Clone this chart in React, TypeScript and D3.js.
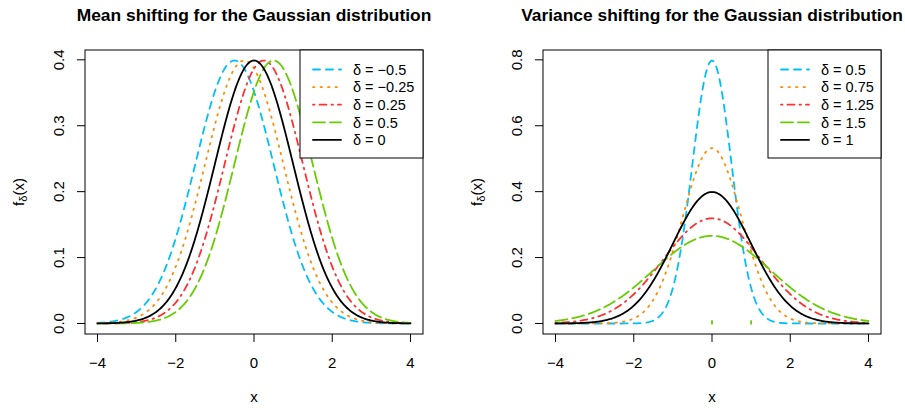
import * as d3 from "d3";

const meanDeltas = [-0.5, -0.25, 0.25, 0.5, 0];
const meanLabels = ["\u22120.5", "\u22120.25", "0.25", "0.5", "0"];
const sdDeltas = [0.5, 0.75, 1.25, 1.5, 1];
const sdLabels = ["0.5", "0.75", "1.25", "1.5", "1"];
const xTicks = [-4, -2, 0, 2, 4];
const meanYTicks = [0, 0.1, 0.2, 0.3, 0.4];
const sdYTicks = [0, 0.2, 0.4, 0.6, 0.8];
const rugMarks = [0, 1];

const colors = ["#00BFFF", "#FF8C00", "#FF3030", "#66CD00", "#000000"];
const dashes = ["7,6", "1.5,6", "1.5,5,7,5", "12,5", ""];

const FONT = "Liberation Sans, Arial, Helvetica, sans-serif";
const grid = d3.range(0, 401).map((i) => -4 + (i * 8) / 400);

const dnorm = (x: number, m: number, s: number) =>
  Math.exp(-((x - m) ** 2) / (2 * s * s)) / (s * Math.sqrt(2 * Math.PI));

type PanelProps = {
  left: number;
  title: string;
  curves: { m: number; s: number }[];
  labels: string[];
  yTicks: number[];
  yMax: number;
  legendX: number;
  rug?: number[];
};

const Panel = ({ left, title, curves, labels, yTicks, yMax, legendX, rug }: PanelProps) => {
  const top = 50;
  const bottom = 334;
  const right = left + 338;
  const x = d3.scaleLinear().domain([-4.32, 4.32]).range([left, right]);
  const pad = yMax * 0.04;
  const y = d3.scaleLinear().domain([-pad, yMax + pad]).range([bottom, top]);
  const line = d3
    .line<number[]>()
    .x((d) => x(d[0]))
    .y((d) => y(d[1]));

  return (
    <g fontFamily={FONT}>
      <text x={(left + right) / 2} y={21} textAnchor="middle" fontWeight="bold" fontSize={17.4}>
        {title}
      </text>
      {curves.map((c, i) => (
        <path
          key={i}
          d={line(grid.map((v) => [v, dnorm(v, c.m, c.s)])) || ""}
          fill="none"
          stroke={colors[i]}
          strokeWidth={1.8}
          strokeDasharray={dashes[i]}
          strokeLinecap="round"
        />
      ))}
      {rug &&
        rug.map((r) => (
          <line key={r} x1={x(r)} x2={x(r)} y1={y(-0.003)} y2={y(0.0095)} stroke={colors[3]} strokeWidth={1.8} />
        ))}
      <rect x={left} y={top} width={right - left} height={bottom - top} fill="none" stroke="#000" />
      {xTicks.map((t) => (
        <g key={t}>
          <line x1={x(t)} x2={x(t)} y1={bottom} y2={bottom + 8} stroke="#000" />
          <text x={x(t)} y={367.5} textAnchor="middle" fontSize={15}>
            {t < 0 ? "\u2212" + Math.abs(t) : t}
          </text>
        </g>
      ))}
      {yTicks.map((t) => (
        <g key={t}>
          <line x1={left - 8} x2={left} y1={y(t)} y2={y(t)} stroke="#000" />
          <text
            transform={`translate(${left - 21.5},${y(t)}) rotate(-90)`}
            textAnchor="middle"
            fontSize={15}
          >
            {t.toFixed(1)}
          </text>
        </g>
      ))}
      <text x={x(0)} y={402} textAnchor="middle" fontSize={15}>
        x
      </text>
      <text transform={`translate(${left - 61.5},${(top + bottom) / 2}) rotate(-90)`} textAnchor="middle" fontSize={15}>
        f
        <tspan fontSize={11} dy={3.5}>
          δ
        </tspan>
        <tspan dy={-3.5}>(x)</tspan>
      </text>
      <g>
        <rect x={legendX} y={top} width={right - legendX} height={108} fill="white" stroke="#000" />
        {labels.map((l, i) => {
          const ly = 69.5 + i * 17.6;
          return (
            <g key={i}>
              <line
                x1={legendX + 13}
                x2={legendX + 41}
                y1={ly}
                y2={ly}
                stroke={colors[i]}
                strokeWidth={1.8}
                strokeDasharray={dashes[i]}
                strokeLinecap="round"
              />
              <text x={legendX + 53} y={ly + 5.2} fontSize={14.5}>
                {"δ = " + l}
              </text>
            </g>
          );
        })}
      </g>
    </g>
  );
};

export default function App() {
  return (
    <svg
      width={905}
      height={408}
      style={{ position: "absolute", left: 0, top: 0, background: "white" }}
    >
      <Panel
        left={85}
        title="Mean shifting for the Gaussian distribution"
        curves={meanDeltas.map((m) => ({ m, s: 1 }))}
        labels={meanLabels}
        yTicks={meanYTicks}
        yMax={dnorm(0, 0, 1)}
        legendX={300}
      />
      <Panel
        left={543}
        title="Variance shifting for the Gaussian distribution"
        curves={sdDeltas.map((s) => ({ m: 0, s }))}
        labels={sdLabels}
        yTicks={sdYTicks}
        yMax={dnorm(0, 0, 0.5)}
        legendX={768}
        rug={rugMarks}
      />
    </svg>
  );
}
